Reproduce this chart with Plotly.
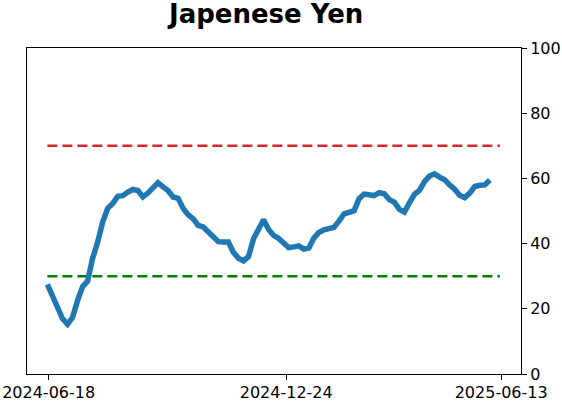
import pandas as pd
import plotly.graph_objects as go

title = "Japenese Yen"
start_date = "2024-06-17"
step = "4D"
values = [
    27.5, 24.0, 20.0, 17.0, 15.3, 17.3, 22.5, 26.8, 28.5, 35.5,
    40.5, 46.6, 50.8, 52.3, 54.5, 54.7, 55.8, 56.6, 56.3, 54.3,
    55.5, 57.3, 58.7, 57.4, 56.3, 54.3, 53.9, 50.8, 48.8, 47.6,
    45.6, 45.1, 43.5, 42.0, 40.6, 40.5, 40.5, 37.3, 35.5, 34.7,
    36.0, 41.5, 44.5, 47.3, 44.3, 42.5, 41.6, 40.0, 38.8, 39.0,
    39.3, 38.3, 38.6, 41.7, 43.4, 44.2, 44.8, 45.0, 46.9, 49.1,
    49.6, 50.1, 53.8, 55.2, 55.0, 54.7, 55.6, 55.3, 53.5, 52.7,
    50.5, 49.7, 52.5, 55.1, 56.3, 59.0, 60.7, 61.4, 60.4, 59.6,
    58.0, 56.7, 54.8, 54.1, 55.5, 57.5, 57.9, 58.0, 59.5,
]
dates = pd.date_range(start=start_date, periods=len(values), freq=step)

upper_level = 70
lower_level = 30
ref_line_dates = ["2024-06-17", "2025-06-12"]

tick_vals = ["2024-06-18", "2024-12-24", "2025-06-13"]
tick_text = ["2024-06-18", "2024-12-24", "2025-06-13"]
y_ticks = [0, 20, 40, 60, 80, 100]
x_range = ["2024-05-31 19:00", "2025-06-28 19:00"]

fig = go.Figure()
fig.add_trace(go.Scatter(
    x=ref_line_dates, y=[upper_level, upper_level], mode="lines",
    line=dict(color="#d62728", width=2.5, dash="10px,5px"), hoverinfo="skip"))
fig.add_trace(go.Scatter(
    x=ref_line_dates, y=[lower_level, lower_level], mode="lines",
    line=dict(color="#008000", width=2.5, dash="10px,5px"), hoverinfo="skip"))
fig.add_trace(go.Scatter(
    x=dates, y=values, mode="lines",
    line=dict(color="#1f77b4", width=5.5)))

font = dict(family="DejaVu Sans", size=16, color="black")
fig.update_layout(
    width=562, height=402,
    margin=dict(l=27, r=41, t=48, b=28),
    paper_bgcolor="white", plot_bgcolor="white",
    showlegend=False,
    font=font,
    xaxis=dict(
        range=x_range, tickmode="array", tickvals=tick_vals, ticktext=tick_text,
        showgrid=False, zeroline=False, showline=True, mirror=True,
        linecolor="black", linewidth=1, ticks="outside", ticklen=5,
        tickcolor="black", tickfont=font, automargin=False,
        ticklabelstandoff=-1),
    yaxis=dict(
        range=[0, 100], side="right", tickmode="array", tickvals=y_ticks,
        showgrid=False, zeroline=False, showline=True, mirror=True,
        linecolor="black", linewidth=1, ticks="outside", ticklen=5,
        tickcolor="black", tickfont=font, automargin=False),
    annotations=[dict(
        text="<b>" + title + "</b>", xref="paper", yref="paper",
        x=0.4818, y=1.155, xanchor="center", yanchor="top",
        showarrow=False, font=dict(family="DejaVu Sans", size=26, color="black"))],
)

fig.write_html("out.html")
